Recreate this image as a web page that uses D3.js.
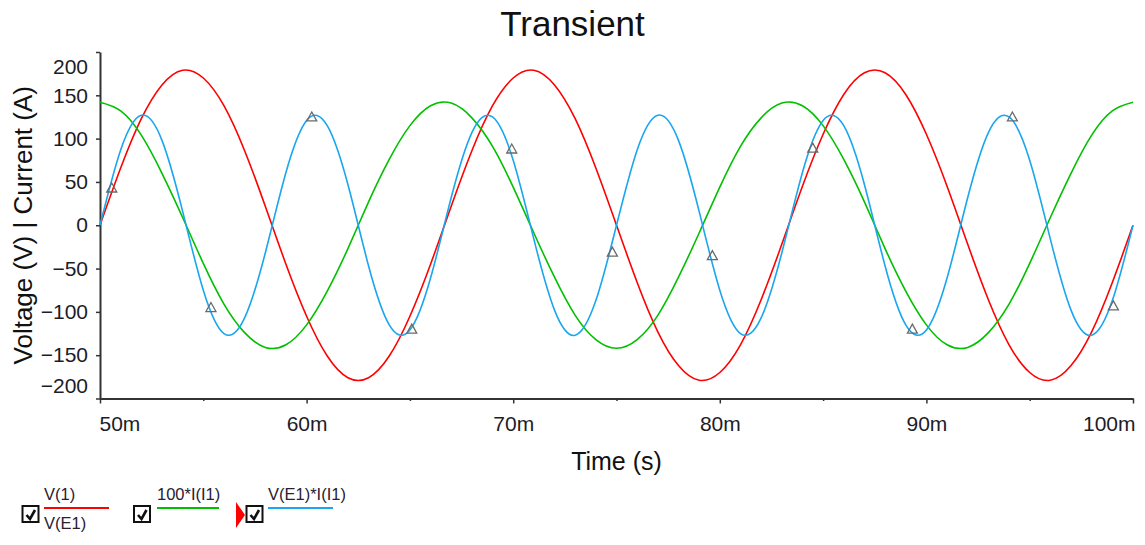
<!DOCTYPE html>
<html>
<head>
<meta charset="utf-8">
<script src="https://cdn.jsdelivr.net/npm/d3@7"></script>
<style>
  body { margin: 0; background: #fff; }
  text { font-family: "Liberation Sans", Arial, sans-serif; }
</style>
</head>
<body>
<script>
// sample times (ms)
const timeMs = [50, 51, 52, 53, 54, 55, 56, 57, 58, 59, 60, 61, 62, 63, 64, 65, 66, 67, 68, 69, 70,
  71, 72, 73, 74, 75, 76, 77, 78, 79, 80, 81, 82, 83, 84, 85, 86, 87, 88, 89, 90,
  91, 92, 93, 94, 95, 96, 97, 98, 99, 100];

// V(1) / V(E1)
const voltage = [0, 66, 123, 162, 179, 170, 138, 86, 22, -45, -105, -151, -176, -176, -151, -105, -45,
  22, 86, 138, 170, 179, 162, 123, 66, 0, -66, -123, -162, -179, -170, -138, -86, -22,
  45, 105, 151, 176, 176, 151, 105, 45, -22, -86, -138, -170, -179, -162, -123, -66, 0];

// 100*I(I1)
const current = [142, 132, 104, 60, 9, -44, -91, -124, -141, -138, -115, -76, -27, 27, 76, 115, 138,
  141, 124, 91, 44, -9, -60, -104, -132, -142, -132, -104, -60, -9, 44, 91, 124, 141,
  138, 115, 76, 27, -27, -76, -115, -138, -141, -124, -91, -44, 9, 60, 104, 132, 142];

// V(E1)*I(I1)
const power = [0, 87, 127, 98, 16, -75, -125, -107, -32, 61, 121, 115, 47, -47, -115, -121, -61,
  32, 107, 125, 75, -16, -98, -127, -87, 0, 87, 127, 98, 16, -75, -125, -107, -32,
  61, 121, 115, 47, -47, -115, -121, -61, 32, 107, 125, 75, -16, -98, -127, -87, 0];

// triangle markers on V(E1)*I(I1)
const markerTimes = [50.57, 55.37, 60.25, 65.09, 69.93, 74.8, 79.64, 84.5, 89.32, 94.16, 99.05];
const markerValues = [43, -95, 125, -120, 88, -31, -35, 89, -120, 125, -93];

const xMajor = [50, 60, 70, 80, 90, 100];
const xMinor = [55, 65, 75, 85, 95];
const yTicks = [-200, -150, -100, -50, 0, 50, 100, 150, 200];

const seriesNames = ["V(1)", "100*I(I1)", "V(E1)*I(I1)"];
const seriesColors = ["#ff0000", "#00c000", "#1aa6ee"];

const W = 1145, H = 545;
const svg = d3.select("body").append("svg").attr("width", W).attr("height", H);

const x = d3.scaleLinear().domain([50, 100]).range([100, 1133]);
const y = d3.scaleLinear().domain([-200, 200]).range([398.5, 52]);

// title
svg.append("text")
  .attr("x", W / 2).attr("y", 36)
  .attr("text-anchor", "middle")
  .style("font-size", "35px").style("fill", "#111")
  .text("Transient");

// axes
const xAxis = svg.append("g")
  .attr("transform", `translate(0,${y(-200)})`)
  .call(d3.axisBottom(x).tickValues(xMajor).tickSize(5).tickPadding(13).tickSizeOuter(0)
    .tickFormat(d => d + "m"));
svg.append("g")
  .attr("transform", `translate(0,${y(-200)})`)
  .call(d3.axisBottom(x).tickValues(xMinor).tickSize(2.5).tickFormat(""))
  .call(g => g.select(".domain").remove());

const yAxis = svg.append("g")
  .attr("transform", `translate(${x(50)},0)`)
  .call(d3.axisLeft(y).tickValues(yTicks).tickSize(4).tickPadding(8).tickSizeOuter(0));

svg.selectAll(".domain").attr("stroke", "#333").attr("stroke-width", 2);
svg.selectAll(".tick line").attr("stroke", "#333").attr("stroke-width", 1.5);
svg.selectAll(".tick text")
  .style("font-size", "21px").style("font-family", '"Liberation Sans", Arial, sans-serif')
  .attr("fill", "#1c1c28");

// edge labels kept inside the axis range
xAxis.selectAll(".tick text")
  .attr("text-anchor", d => d === 50 ? "start" : d === 100 ? "end" : "middle")
  .attr("dx", d => d === 50 ? -1 : d === 100 ? 2 : 0);
yAxis.selectAll(".tick text")
  .attr("dy", d => d === 200 ? "1.0em" : d === -200 ? "-0.3em" : "0.32em");

// axis titles
svg.append("text")
  .attr("x", (x(50) + x(100)) / 2).attr("y", 470)
  .attr("text-anchor", "middle")
  .style("font-size", "25px").style("fill", "#111")
  .text("Time (s)");
svg.append("text")
  .attr("transform", `translate(32,${(y(-200) + y(200)) / 2}) rotate(-90)`)
  .attr("text-anchor", "middle")
  .style("font-size", "26px").style("fill", "#111")
  .text("Voltage (V) | Current (A)");

// lines
const line = d3.line()
  .x((d, i) => x(timeMs[i]))
  .y(d => y(d))
  .curve(d3.curveNatural);

[voltage, current, power].forEach((s, i) => {
  svg.append("path")
    .datum(s)
    .attr("d", line)
    .attr("fill", "none")
    .attr("stroke", seriesColors[i])
    .attr("stroke-width", 1.6);
});

// markers
svg.append("g")
  .selectAll("path")
  .data(markerTimes)
  .join("path")
  .attr("d", (t, i) => {
    const cx = x(t), cy = y(markerValues[i]);
    return `M${cx - 5},${cy + 4}L${cx},${cy - 5}L${cx + 5},${cy + 4}Z`;
  })
  .attr("fill", "none")
  .attr("stroke", "#6a6a6a")
  .attr("stroke-width", 1.3);

// legend
const legend = svg.append("g").attr("class", "legend");
const legendItems = [
  { box: 22.5, lineX: 44, lineW: 65 },
  { box: 134, lineX: 157, lineW: 62 },
  { box: 246.5, lineX: 268, lineW: 65 }
];

legendItems.forEach((it, i) => {
  legend.append("rect")
    .attr("x", it.box).attr("y", 506).attr("width", 16).attr("height", 16)
    .attr("fill", "#fff").attr("stroke", "#111").attr("stroke-width", 2);
  legend.append("path")
    .attr("d", `M${it.box + 4},${515}L${it.box + 7.5},${519}L${it.box + 12.5},${510}`)
    .attr("fill", "none").attr("stroke", "#111").attr("stroke-width", 2.6);
  legend.append("line")
    .attr("x1", it.lineX).attr("x2", it.lineX + it.lineW)
    .attr("y1", 508).attr("y2", 508)
    .attr("stroke", seriesColors[i]).attr("stroke-width", 2);
  legend.append("text")
    .attr("x", it.lineX).attr("y", 500)
    .style("font-size", "16.5px").style("fill", "#2a2030")
    .text(seriesNames[i]);
});

legend.append("text")
  .attr("x", 44).attr("y", 529)
  .style("font-size", "16.5px").style("fill", "#2a2030")
  .text("V(E1)");

// selected-trace flag
legend.append("path")
  .attr("d", "M236,502L236,528L245,515Z")
  .attr("fill", "#ff0000");
</script>
</body>
</html>
